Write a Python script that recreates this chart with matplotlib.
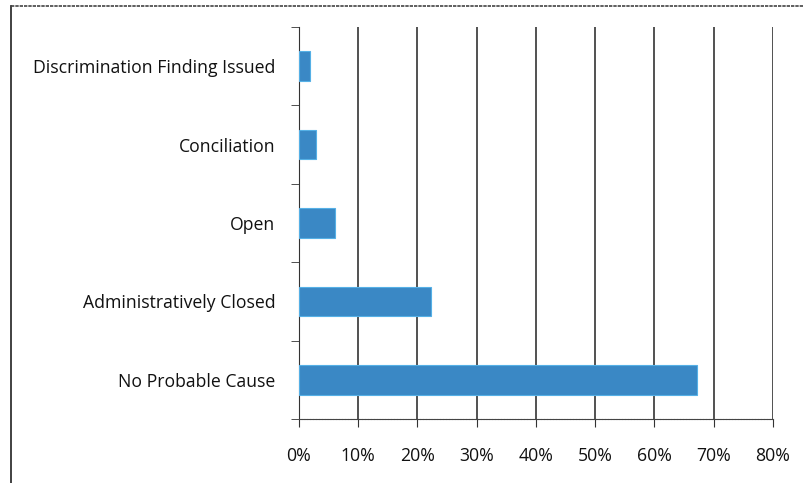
import matplotlib
matplotlib.use("Agg")
import matplotlib.pyplot as plt
from matplotlib.lines import Line2D
from matplotlib.ticker import FuncFormatter

categories = ["No Probable Cause", "Administratively Closed", "Open",
              "Conciliation", "Discrimination Finding Issued"]
shares = [0.672, 0.223, 0.06, 0.029, 0.019]
xticks = [0, 0.1, 0.2, 0.3, 0.4, 0.5, 0.6, 0.7, 0.8]

plt.rcParams['font.family'] = ['Open Sans', 'DejaVu Sans']

fig = plt.figure(figsize=(8.04, 4.83), dpi=100)
ax = fig.add_axes([299/804, 1 - 419/483, 474/804, 392/483])

ypos = list(range(len(categories)))
ax.barh(ypos, shares, height=0.38, color='#3a88c5', edgecolor='#55b0e6', linewidth=0.8, zorder=3)

ax.set_xlim(0, 0.8)
ax.set_ylim(-0.5, len(categories) - 0.5)
ax.set_xticks(xticks)
ax.xaxis.set_major_formatter(FuncFormatter(lambda v, p: f"{v*100:.0f}%"))
ax.set_yticks(ypos)
ax.set_yticklabels(categories)
ax.set_yticks([i - 0.5 for i in range(len(categories) + 1)], minor=True)

ax.grid(axis='x', color='#222222', linewidth=1.1, zorder=0)
for s in ['top', 'right']:
    ax.spines[s].set_visible(False)
ax.spines['left'].set_color('#333333')
ax.spines['bottom'].set_color('#444444')
ax.spines['bottom'].set_linestyle((0, (2, 0.6)))

ax.tick_params(axis='y', which='major', length=0, pad=17, labelsize=12.7, labelcolor='#111111')
ax.tick_params(axis='y', which='minor', length=6, color='#333333')
ax.tick_params(axis='x', length=6, pad=14, labelsize=12.7, labelcolor='#111111', color='#333333')

# outer border of the chart
fig.add_artist(Line2D([11/804, 11/804], [0, 1 - 6/483], color='#333333', lw=1.3))
fig.add_artist(Line2D([11/804, 1], [1 - 6/483, 1 - 6/483], color='#444444', lw=1.2,
                      linestyle=(0, (2, 0.6))))

fig.savefig("out.png", dpi=100)
